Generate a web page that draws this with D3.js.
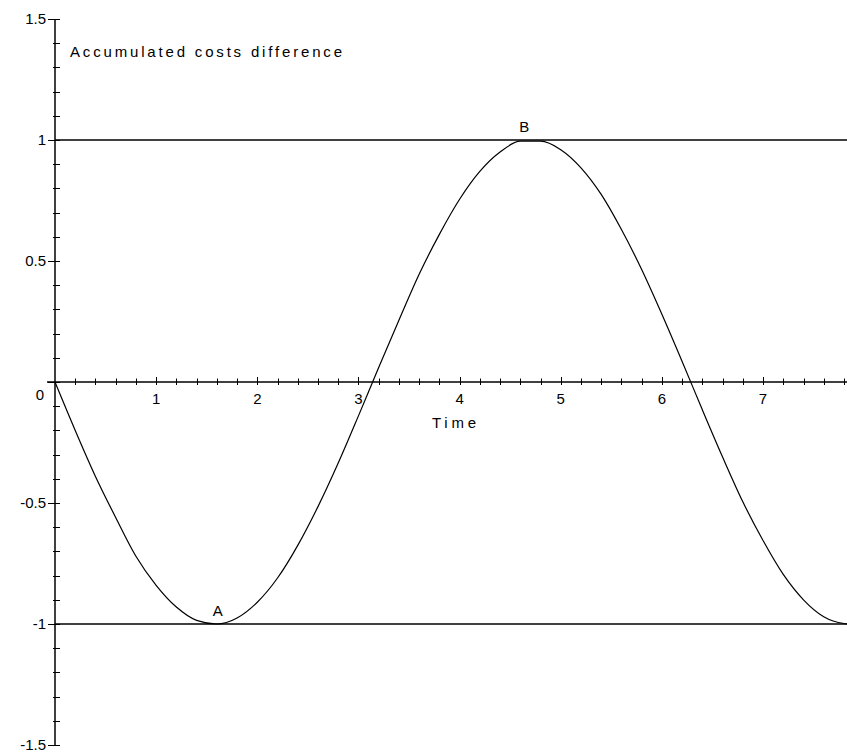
<!DOCTYPE html>
<html>
<head>
<meta charset="utf-8">
<script src="https://cdn.jsdelivr.net/npm/d3@7"></script>
<style>
    html, body { margin: 0; padding: 0; background: #fff; }
    svg { display: block; }
    text { font-family: "Liberation Sans", Arial, sans-serif; font-size: 15px; fill: #000; }
</style>
</head>
<body>
<svg id="chart" width="847" height="753"></svg>
<script>
// values
var timeValues = [ 0, 0.2, 0.4, 0.6, 0.8, 1.0, 1.2, 1.4, 1.6, 1.8, 2.0, 2.2, 2.4, 2.6, 2.8, 3.0,
    3.2, 3.4, 3.6, 3.8, 4.0, 4.2, 4.4, 4.6, 4.8, 5.0, 5.2, 5.4, 5.6, 5.8, 6.0, 6.2,
    6.4, 6.6, 6.8, 7.0, 7.2, 7.4, 7.6, 7.8, 7.85 ];
var costDiff = [ 0, -0.20, -0.39, -0.56, -0.72, -0.84, -0.93, -0.985, -1.0, -0.975, -0.91, -0.81, -0.675, -0.515, -0.335, -0.14,
    0.06, 0.255, 0.445, 0.61, 0.755, 0.87, 0.95, 0.995, 0.995, 0.96, 0.885, 0.775, 0.63, 0.465, 0.28, 0.085,
    -0.115, -0.31, -0.495, -0.655, -0.795, -0.9, -0.97, -0.998, -1.0 ];
var xTickLabels = [ 1, 2, 3, 4, 5, 6, 7 ];
var yTickLabels = [ 1.5, 1, 0.5, -0.5, -1, -1.5 ];
var levelLines = [ 1, -1 ];
var pointNames = [ 'A', 'B', 'C' ];
var pointTimes = [ 1.61, 4.64, 7.88 ];
var pointValues = [ -1, 1, -1 ];

var svg = d3.select( '#chart' ),
    width = 847,
    x = d3.scaleLinear().domain( [ 0, 7.83 ] ).range( [ 55, 847 ] ),
    y = d3.scaleLinear().domain( [ -1.5, 1.5 ] ).range( [ 745, 19 ] );

// level lines at +1 / -1
svg.selectAll( 'line.level' )
    .data( levelLines )
    .enter()
    .append( 'line' )
    .attr( 'class', 'level' )
    .attr( 'x1', x( 0 ) )
    .attr( 'x2', width )
    .attr( 'y1', function ( d ) { return y( d ); } )
    .attr( 'y2', function ( d ) { return y( d ); } )
    .attr( 'stroke', '#000' )
    .attr( 'stroke-width', 1.5 );

// time axis through zero
var xAxisGrp = svg.append( 'g' ).attr( 'transform', 'translate(0,' + y( 0 ) + ')' );
xAxisGrp.append( 'line' )
    .attr( 'x1', x( 0 ) - 8 )
    .attr( 'x2', width )
    .attr( 'stroke', '#000' )
    .attr( 'stroke-width', 1.5 );
xAxisGrp.selectAll( 'line.minor' )
    .data( d3.range( 1, 40 ).map( function ( i ) { return i * 0.2; } ) )
    .enter()
    .append( 'line' )
    .attr( 'x1', function ( d ) { return Math.round( x( d ) ) + 0.5; } )
    .attr( 'x2', function ( d ) { return Math.round( x( d ) ) + 0.5; } )
    .attr( 'y1', function ( d, i ) { return ( i % 5 === 4 ) ? -5 : -3.5; } )
    .attr( 'y2', 3 )
    .attr( 'stroke', '#000' )
    .attr( 'stroke-width', 1 );
xAxisGrp.selectAll( 'text.tick' )
    .data( xTickLabels )
    .enter()
    .append( 'text' )
    .attr( 'class', 'tick' )
    .attr( 'x', function ( d ) { return x( d ); } )
    .attr( 'y', 22 )
    .attr( 'text-anchor', 'middle' )
    .text( function ( d ) { return d; } );
xAxisGrp.append( 'text' )
    .attr( 'x', 40 )
    .attr( 'y', 18 )
    .attr( 'text-anchor', 'middle' )
    .text( '0' );
xAxisGrp.append( 'text' )
    .attr( 'x', 454 )
    .attr( 'y', 46 )
    .attr( 'text-anchor', 'middle' )
    .attr( 'textLength', 44 )
    .attr( 'lengthAdjust', 'spacing' )
    .text( 'Time' );

// value axis
var yAxisGrp = svg.append( 'g' ).attr( 'transform', 'translate(' + x( 0 ) + ',0)' );
yAxisGrp.append( 'line' )
    .attr( 'y1', y( 1.5 ) )
    .attr( 'y2', y( -1.5 ) )
    .attr( 'stroke', '#000' )
    .attr( 'stroke-width', 1.5 );
yAxisGrp.selectAll( 'line.minor' )
    .data( d3.range( -15, 16 ).map( function ( i ) { return i / 10; } ) )
    .enter()
    .append( 'line' )
    .attr( 'x1', function ( d ) { return ( Math.abs( d * 2 - Math.round( d * 2 ) ) < 1e-6 ) ? -7 : -2; } )
    .attr( 'x2', 5 )
    .attr( 'y1', function ( d ) { return Math.round( y( d ) ) + 0.5; } )
    .attr( 'y2', function ( d ) { return Math.round( y( d ) ) + 0.5; } )
    .attr( 'stroke', '#000' )
    .attr( 'stroke-width', 1 );
yAxisGrp.selectAll( 'text.tick' )
    .data( yTickLabels )
    .enter()
    .append( 'text' )
    .attr( 'class', 'tick' )
    .attr( 'x', -9 )
    .attr( 'y', function ( d ) { return y( d ) + 5; } )
    .attr( 'text-anchor', 'end' )
    .text( function ( d ) { return d; } );

svg.append( 'text' )
    .attr( 'x', 70 )
    .attr( 'y', 57 )
    .attr( 'textLength', 272 )
    .attr( 'lengthAdjust', 'spacing' )
    .text( 'Accumulated costs difference' );

// the curve
var line = d3.line()
    .x( function ( d, i ) { return x( timeValues[ i ] ); } )
    .y( function ( d ) { return y( d ); } )
    .curve( d3.curveMonotoneX );
svg.append( 'path' )
    .datum( costDiff )
    .attr( 'd', line )
    .attr( 'fill', 'none' )
    .attr( 'stroke', '#000' )
    .attr( 'stroke-width', 1.2 );

// point names
svg.selectAll( 'text.point' )
    .data( pointNames )
    .enter()
    .append( 'text' )
    .attr( 'class', 'point' )
    .attr( 'x', function ( d, i ) { return x( pointTimes[ i ] ); } )
    .attr( 'y', function ( d, i ) { return y( pointValues[ i ] ) - 8; } )
    .attr( 'text-anchor', 'middle' )
    .text( function ( d ) { return d; } );
</script>
</body>
</html>
